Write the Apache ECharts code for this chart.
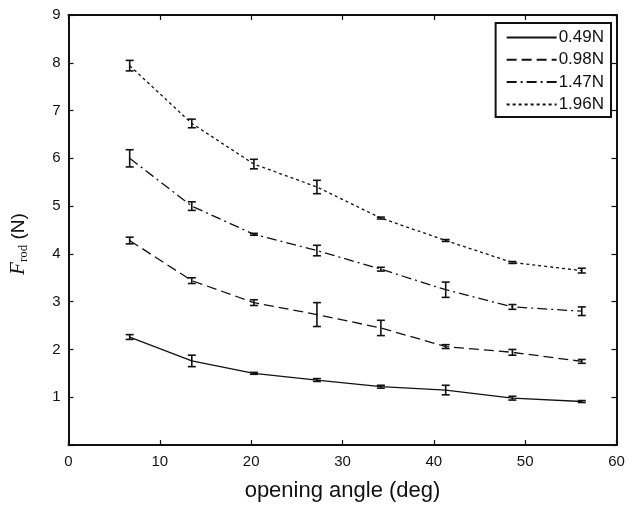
<!DOCTYPE html>
<html>
<head>
<meta charset="utf-8">
<script src="https://cdn.jsdelivr.net/npm/echarts@6/dist/echarts.min.js"></script>
<style>
html,body{margin:0;padding:0;background:#fff;}
#chart{width:628px;height:507px;}
</style>
</head>
<body>
<div id="chart"></div>
<script>
// x positions (opening angle, deg)
var angles = [6.7, 13.5, 20.3, 27.2, 34.2, 41.3, 48.6, 56.2];
// series names
var seriesNames = ['0.49N', '0.98N', '1.47N', '1.96N'];
// mean values
var f049 = [2.26, 1.76, 1.50, 1.36, 1.22, 1.15, 0.98, 0.91];
var f098 = [4.28, 3.44, 2.98, 2.73, 2.45, 2.06, 1.94, 1.75];
var f147 = [6.00, 5.00, 4.41, 4.07, 3.68, 3.25, 2.89, 2.80];
var f196 = [7.94, 6.73, 5.88, 5.40, 4.75, 4.28, 3.82, 3.65];
// half error bars
var e049 = [0.05, 0.12, 0.02, 0.03, 0.03, 0.10, 0.04, 0.02];
var e098 = [0.07, 0.06, 0.06, 0.25, 0.16, 0.04, 0.06, 0.04];
var e147 = [0.18, 0.09, 0.02, 0.11, 0.04, 0.16, 0.05, 0.09];
var e196 = [0.11, 0.09, 0.10, 0.14, 0.02, 0.02, 0.02, 0.05];
// axis tick labels shown
var xTicks = [0, 10, 20, 30, 40, 50, 60];
var yTicks = [1, 2, 3, 4, 5, 6, 7, 8, 9];

var means = [f049, f098, f147, f196];
var errs = [e049, e098, e147, e196];
var dashes = ['solid', [10, 5], [10, 4, 2, 4], [3, 3]];

var chart = echarts.init(document.getElementById('chart'), null, {renderer: 'canvas'});
var font = 'Liberation Sans, Arial, Helvetica, sans-serif';
var serif = 'Liberation Serif, Times New Roman, serif';

var series = [];
means.forEach(function (m, i) {
  series.push({
    name: seriesNames[i],
    type: 'line',
    data: angles.map(function (a, j) { return [a, m[j]]; }),
    symbol: 'none',
    lineStyle: {color: '#111', width: 1.3, type: dashes[i]},
    itemStyle: {color: '#111'},
    z: 3,
    animation: false
  });
});
means.forEach(function (m, i) {
  series.push({
    type: 'custom',
    name: 'err' + i,
    data: angles.map(function (a, j) { return [a, m[j] - errs[i][j], m[j] + errs[i][j]]; }),
    renderItem: function (params, api) {
      var lo = api.coord([api.value(0), api.value(1)]);
      var hi = api.coord([api.value(0), api.value(2)]);
      var w = 4;
      var st = {stroke: '#111', lineWidth: 1.6, fill: null};
      return {
        type: 'group',
        children: [
          {type: 'line', shape: {x1: lo[0], y1: lo[1], x2: hi[0], y2: hi[1]}, style: st},
          {type: 'line', shape: {x1: lo[0] - w, y1: lo[1], x2: lo[0] + w, y2: lo[1]}, style: st},
          {type: 'line', shape: {x1: hi[0] - w, y1: hi[1], x2: hi[0] + w, y2: hi[1]}, style: st}
        ]
      };
    },
    encode: {x: 0, y: [1, 2]},
    z: 4,
    animation: false
  });
});

var axisLine = {show: true, onZero: false, lineStyle: {color: '#111', width: 2}};
var tick = {show: true, inside: true, length: 5, lineStyle: {color: '#111', width: 1.2}};

chart.setOption({
  animation: false,
  backgroundColor: '#fff',
  grid: {left: 67.5, right: 11.5, top: 15, bottom: 59, containLabel: false},
  legend: {
    data: seriesNames,
    orient: 'vertical',
    right: 17,
    top: 23,
    itemWidth: 50,
    itemHeight: 14,
    itemGap: 5.3,
    padding: [6, 7, 4, 10],
    borderColor: '#111',
    borderWidth: 2,
    backgroundColor: '#fff',
    borderRadius: 0,
    itemStyle: {opacity: 0},
    textStyle: {fontFamily: font, fontSize: 17, color: '#111', padding: [0, 0, 0, -3]},
    selectedMode: false
  },
  xAxis: [{
    type: 'value', min: 0, max: 60, interval: 10, position: 'bottom',
    name: 'opening angle (deg)', nameLocation: 'middle', nameGap: 35,
    nameTextStyle: {fontFamily: font, fontSize: 22, color: '#111'},
    axisLine: axisLine, axisTick: tick,
    axisLabel: {fontFamily: font, fontSize: 15, color: '#111', margin: 9,
      formatter: function (v) { return xTicks.indexOf(v) >= 0 ? String(v) : ''; }},
    splitLine: {show: false}
  }, {
    type: 'value', min: 0, max: 60, interval: 10, position: 'top',
    axisLine: axisLine, axisTick: tick, axisLabel: {show: false}, splitLine: {show: false}
  }],
  yAxis: [{
    type: 'value', min: 0, max: 9, interval: 1, position: 'left',
    name: '{f|F}{sub|rod}{n| (N)}', nameLocation: 'middle', nameGap: 38, nameRotate: 90,
    nameTextStyle: {
      color: '#111',
      padding: [0, 28, 0, 0],
      rich: {
        f: {fontFamily: serif, fontStyle: 'italic', fontSize: 21, color: '#111', lineHeight: 24, verticalAlign: 'middle'},
        sub: {fontFamily: serif, fontSize: 13, color: '#111', lineHeight: 24, verticalAlign: 'bottom', padding: [9, 0, 0, 0]},
        n: {fontFamily: font, fontSize: 19, color: '#111', lineHeight: 24, verticalAlign: 'middle'}
      }
    },
    axisLine: axisLine, axisTick: tick,
    axisLabel: {fontFamily: font, fontSize: 15, color: '#111', margin: 8,
      formatter: function (v) { return yTicks.indexOf(v) >= 0 ? String(v) : ''; }},
    splitLine: {show: false}
  }, {
    type: 'value', min: 0, max: 9, interval: 1, position: 'right',
    axisLine: axisLine, axisTick: tick, axisLabel: {show: false}, splitLine: {show: false}
  }],
  series: series
});
</script>
</body>
</html>
